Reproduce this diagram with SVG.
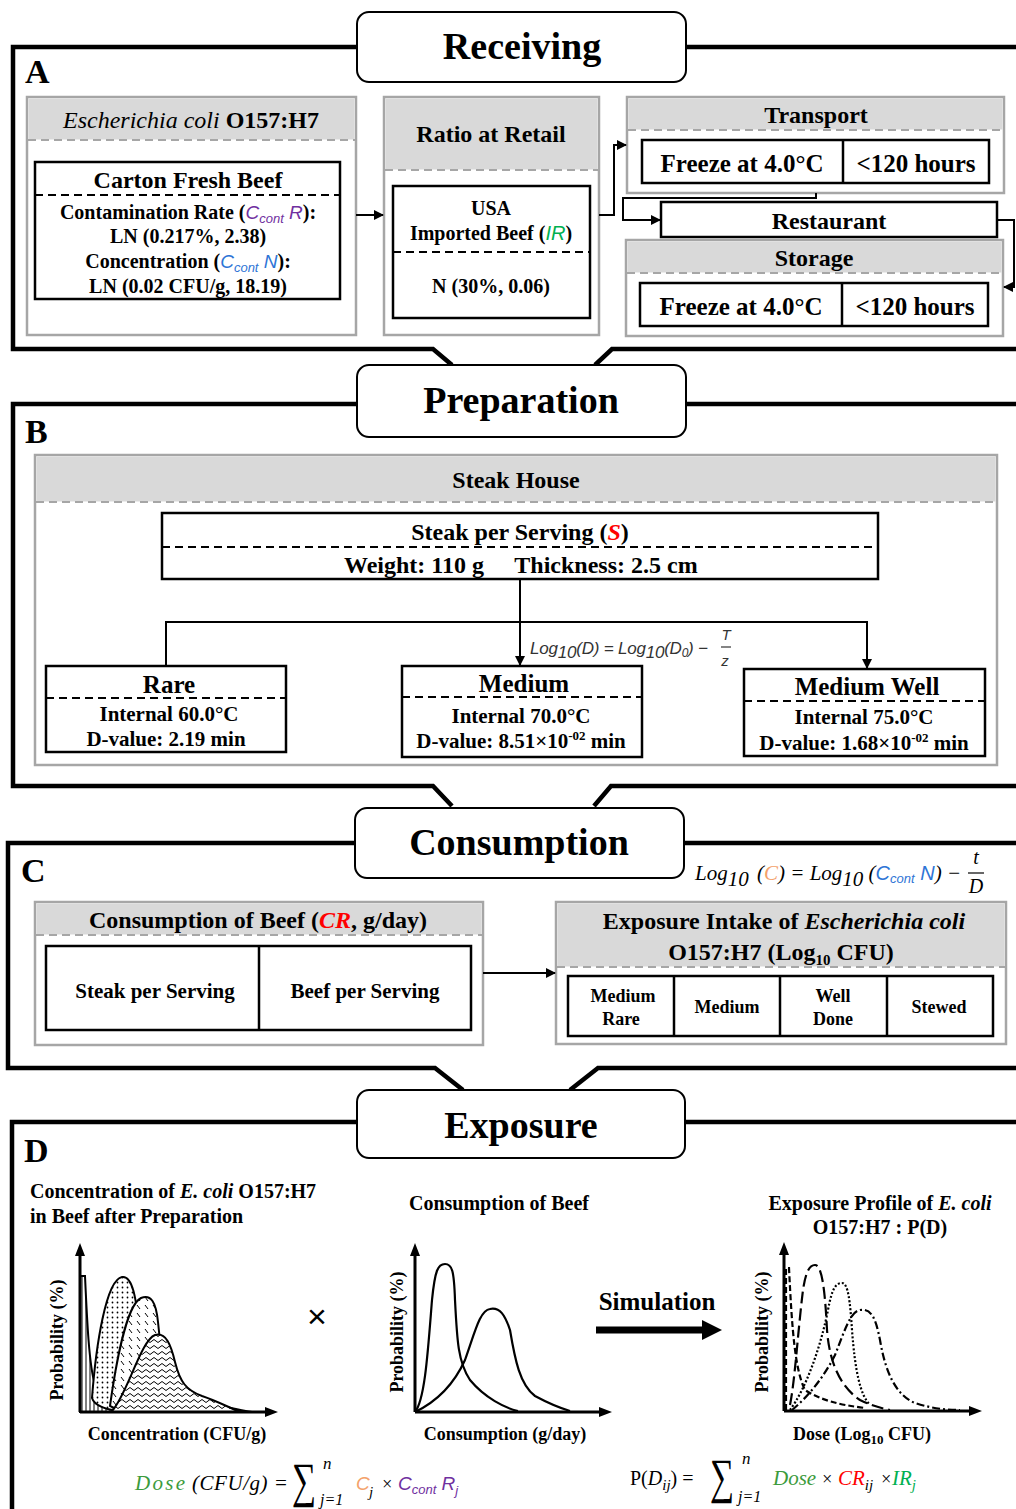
<svg xmlns="http://www.w3.org/2000/svg" width="1016" height="1509" viewBox="0 0 1016 1509">
<style>
text{font-family:"Liberation Serif","Times New Roman",serif;font-weight:bold;fill:#000}
.c{text-anchor:middle}
.sec{font-size:38px}
.let{font-size:34px}
.t24{font-size:24px}
.t25{font-size:25px}
.t21{font-size:21px}
.t20{font-size:20px}
.t19{font-size:19px}
.t18{font-size:18px}
.frame{fill:none;stroke:#000;stroke-width:4.5}
.tbox{fill:#fff;stroke:#000;stroke-width:2}
.gbox{fill:#fff;stroke:#a6a6a6;stroke-width:2.5}
.ghead{fill:#d9d9d9}
.gdash{stroke:#a6a6a6;stroke-width:2;stroke-dasharray:8 5;fill:none}
.bbox{fill:#fff;stroke:#000;stroke-width:2.5}
.bline{stroke:#000;stroke-width:2.5;fill:none}
.bdash{stroke:#000;stroke-width:2.2;stroke-dasharray:8 5;fill:none}
.con{stroke:#000;stroke-width:2;fill:none}
.ax{stroke:#000;stroke-width:3;fill:none}
.cv{stroke:#000;stroke-width:2.2;fill:none}
.it{font-style:italic;font-weight:normal}
.bi{font-style:italic}
.n{font-weight:normal}
.m{font-family:"Liberation Serif","Times New Roman",serif;font-style:italic;font-weight:normal}
.sans{font-family:"Liberation Sans",Arial,sans-serif;font-style:italic;font-weight:normal}
</style>
<defs>
<marker id="ah" markerWidth="10" markerHeight="10" refX="9" refY="5" orient="auto" markerUnits="userSpaceOnUse"><path d="M0,0 L10,5 L0,10 Z" fill="#000"/></marker>
<pattern id="pDots" width="5" height="5" patternUnits="userSpaceOnUse"><rect width="5" height="5" fill="#fff"/><circle cx="2.5" cy="2.5" r="0.9" fill="#000"/></pattern>
<pattern id="pDash" width="8" height="8" patternUnits="userSpaceOnUse"><rect width="8" height="8" fill="#fff"/><path d="M1,1 L4,5" stroke="#000" stroke-width="1"/></pattern>
<pattern id="pWave" width="8" height="6" patternUnits="userSpaceOnUse"><rect width="8" height="6" fill="#fff"/><path d="M0,3 Q2,0 4,3 T8,3" stroke="#000" stroke-width="1" fill="none"/></pattern>
<pattern id="pVline" width="4" height="4" patternUnits="userSpaceOnUse"><rect width="4" height="4" fill="#fff"/><path d="M2,0 V4" stroke="#000" stroke-width="1"/></pattern>
</defs>

<g id="frames">
<path class="frame" d="M357,47 H13 V349 H433 L452,365 M595,365 L612,349 H1016 M686,47 H1016"/>
<path class="frame" d="M357,404 H13 V786 H433 L452,806 M594,806 L611,786 H1016 M686,404 H1016"/>
<path class="frame" d="M355,843 H8 V1068 H435 L463,1090 M570,1090 L598,1068 H1016 M684,843 H1016"/>
<path class="frame" d="M357,1122 H12 V1509 M685,1122 H1016"/>
<text class="let" x="25" y="83">A</text>
<text class="let" x="25" y="443">B</text>
<text class="let" x="21" y="882">C</text>
<text class="let" x="24" y="1162">D</text>
</g>

<g id="receiving"><rect class="tbox" x="357" y="12" width="329" height="70" rx="12"/><text class="sec c" x="522" y="59">Receiving</text></g>
<g id="preparation"><rect class="tbox" x="357" y="365" width="329" height="72" rx="12"/><text class="sec c" x="521" y="413">Preparation</text></g>
<g id="consumption"><rect class="tbox" x="355" y="808" width="329" height="70" rx="12"/><text class="sec c" x="519" y="855">Consumption</text></g>
<g id="exposure"><rect class="tbox" x="357" y="1090" width="328" height="68" rx="12"/><text class="sec c" x="521" y="1138">Exposure</text></g>

<g id="ecoli">
<rect class="gbox" x="27" y="97" width="329" height="238"/>
<rect class="ghead" x="28.5" y="98.5" width="326" height="41"/>
<line class="gdash" x1="28" y1="140" x2="355" y2="140"/>
<text class="t24 c" x="191" y="128"><tspan class="it">Escherichia coli</tspan> O157:H7</text>
<rect class="bbox" x="35" y="162" width="305" height="137"/>
<line class="bdash" x1="35" y1="195" x2="340" y2="195"/>
<text class="t24 c" x="188" y="188">Carton Fresh Beef</text>
<text class="t20 c" x="188" y="219">Contamination Rate (<tspan class="sans" fill="#7030A0" font-size="19">C<tspan font-size="13" dy="4">cont</tspan><tspan dy="-4"> R</tspan></tspan>):</text>
<text class="t20 c" x="188" y="243">LN (0.217%, 2.38)</text>
<text class="t20 c" x="188" y="268">Concentration (<tspan class="sans" fill="#2E75D6" font-size="19">C<tspan font-size="13" dy="4">cont</tspan><tspan dy="-4"> N</tspan></tspan>):</text>
<text class="t20 c" x="188" y="293">LN (0.02 CFU/g, 18.19)</text>
</g>

<g id="ratio">
<rect class="gbox" x="384" y="97" width="215" height="238"/>
<rect class="ghead" x="385.5" y="98.5" width="212" height="71"/>
<line class="gdash" x1="385" y1="170" x2="598" y2="170"/>
<text class="t24 c" x="491" y="142">Ratio at Retail</text>
<rect class="bbox" x="393" y="186" width="197" height="132"/>
<line class="bdash" x1="393" y1="252" x2="590" y2="252"/>
<text class="t20 c" x="491" y="215">USA</text>
<text class="t20 c" x="491" y="240">Imported Beef (<tspan class="sans" fill="#00B050">IR</tspan>)</text>
<text class="t20 c" x="491" y="293">N (30%, 0.06)</text>
</g>

<g id="transport">
<rect class="gbox" x="627" y="97" width="377" height="96"/>
<rect class="ghead" x="628.5" y="98.5" width="374" height="31"/>
<line class="gdash" x1="628" y1="130" x2="1003" y2="130"/>
<text class="t24 c" x="816" y="123">Transport</text>
<rect class="bbox" x="642" y="140" width="347" height="43"/>
<line class="bline" x1="843" y1="140" x2="843" y2="183"/>
<text class="t25 c" x="742" y="172">Freeze at 4.0°C</text>
<text class="t25 c" x="916" y="172">&lt;120 hours</text>
</g>

<g id="restaurant">
<rect class="bbox" x="661" y="202" width="336" height="35"/>
<text class="t24 c" x="829" y="229">Restaurant</text>
</g>

<g id="storage">
<rect class="gbox" x="626" y="240" width="377" height="96"/>
<rect class="ghead" x="627.5" y="241.5" width="374" height="31"/>
<line class="gdash" x1="627" y1="273" x2="1002" y2="273"/>
<text class="t24 c" x="814" y="266">Storage</text>
<rect class="bbox" x="640" y="283" width="348" height="43"/>
<line class="bline" x1="842" y1="283" x2="842" y2="326"/>
<text class="t25 c" x="741" y="315">Freeze at 4.0°C</text>
<text class="t25 c" x="915" y="315">&lt;120 hours</text>
</g>

<g id="steakhouse">
<rect class="gbox" x="35" y="455" width="962" height="310"/>
<rect class="ghead" x="36.5" y="456.5" width="959" height="45"/>
<line class="gdash" x1="36" y1="502" x2="996" y2="502"/>
<text class="t24 c" x="516" y="488">Steak House</text>
</g>

<g id="steak">
<rect class="bbox" x="162" y="513" width="716" height="66"/>
<line class="bdash" x1="162" y1="547" x2="878" y2="547"/>
<text class="t24 c" x="520" y="540">Steak per Serving (<tspan fill="#FF0000" font-style="italic">S</tspan>)</text>
<text class="t24 c" x="414" y="573">Weight: 110 g</text>
<text class="t24 c" x="606" y="573">Thickness: 2.5 cm</text>
</g>

<g id="rare">
<rect class="bbox" x="46" y="666" width="240" height="86"/>
<line class="bdash" x1="46" y1="698" x2="286" y2="698"/>
<text class="t25 c" x="169" y="693">Rare</text>
<text class="t21 c" x="169" y="721">Internal  60.0°C</text>
<text class="t21 c" x="166" y="746">D-value: 2.19 min</text>
</g>

<g id="medium">
<rect class="bbox" x="402" y="666" width="240" height="91"/>
<line class="bdash" x1="402" y1="697" x2="642" y2="697"/>
<text class="t25 c" x="524" y="692">Medium</text>
<text class="t21 c" x="521" y="723">Internal  70.0°C</text>
<text class="t21 c" x="521" y="748">D-value: 8.51×10<tspan font-size="13" dy="-8">-02</tspan><tspan dy="8"> min</tspan></text>
</g>

<g id="mediumwell">
<rect class="bbox" x="744" y="669" width="241" height="87"/>
<line class="bdash" x1="744" y1="701" x2="985" y2="701"/>
<text class="t25 c" x="867" y="695">Medium Well</text>
<text class="t21 c" x="864" y="724">Internal  75.0°C</text>
<text class="t21 c" x="864" y="750">D-value: 1.68×10<tspan font-size="13" dy="-8">-02</tspan><tspan dy="8"> min</tspan></text>
</g>

<g id="consbeef">
<rect class="gbox" x="35" y="902" width="448" height="143"/>
<rect class="ghead" x="36.5" y="903.5" width="445" height="31"/>
<line class="gdash" x1="36" y1="935" x2="482" y2="935"/>
<text class="t24 c" x="258" y="928">Consumption of Beef (<tspan fill="#FF0000" font-style="italic">CR</tspan>, g/day)</text>
<rect class="bbox" x="46" y="946" width="425" height="84"/>
<line class="bline" x1="259" y1="946" x2="259" y2="1030"/>
<text class="t21 c" x="155" y="998">Steak per Serving</text>
<text class="t21 c" x="365" y="998">Beef per Serving</text>
</g>

<g id="intake">
<rect class="gbox" x="556" y="902" width="450" height="142"/>
<rect class="ghead" x="557.5" y="903.5" width="447" height="63"/>
<line class="gdash" x1="557" y1="967" x2="1005" y2="967"/>
<text class="t24 c" x="784" y="929">Exposure Intake of <tspan class="bi">Escherichia coli</tspan></text>
<text class="t24 c" x="781" y="960">O157:H7 (Log<tspan font-size="15" dy="5">10</tspan><tspan dy="-5"> CFU)</tspan></text>
<rect class="bbox" x="568" y="976" width="425" height="60"/>
<line class="bline" x1="674" y1="976" x2="674" y2="1036"/>
<line class="bline" x1="780" y1="976" x2="780" y2="1036"/>
<line class="bline" x1="887" y1="976" x2="887" y2="1036"/>
<text class="t18 c" x="623" y="1002">Medium</text>
<text class="t18 c" x="621" y="1025">Rare</text>
<text class="t18 c" x="727" y="1013">Medium</text>
<text class="t18 c" x="833" y="1002">Well</text>
<text class="t18 c" x="833" y="1025">Done</text>
<text class="t18 c" x="939" y="1013">Stewed</text>
</g>

<g id="connectors">
<line class="con" x1="356" y1="215" x2="383" y2="215" marker-end="url(#ah)"/>
<polyline class="con" points="599,215 614,215 614,145 626,145" marker-end="url(#ah)"/>
<polyline class="con" points="816,193 816,198 623,198 623,220 660,220" marker-end="url(#ah)"/>
<polyline class="con" points="997,220 1014,220 1014,287 1004,287" marker-end="url(#ah)"/>
<line class="con" x1="520" y1="579" x2="520" y2="665" marker-end="url(#ah)"/>
<polyline class="con" points="166,665 166,622 867,622 867,668" marker-end="url(#ah)"/>
<line class="con" x1="483" y1="973" x2="555" y2="973" marker-end="url(#ah)"/>
</g>

<g id="formulaB">
<text class="sans" x="530" y="654" font-size="17" style="fill:#333" textLength="178">Log<tspan dy="4">10</tspan><tspan dy="-4">(D) = Log</tspan><tspan dy="4">10</tspan><tspan dy="-4">(D</tspan><tspan font-size="12" dy="3">0</tspan><tspan dy="-3">) −</tspan></text>
<text class="sans c" x="726" y="640" font-size="15" style="fill:#333">T</text>
<line x1="721" y1="647" x2="731" y2="647" stroke="#333" stroke-width="1.2"/>
<text class="sans c" x="725" y="666" font-size="15" style="fill:#333">z</text>
</g>

<g id="formulaC">
<text class="m" x="695" y="880" font-size="21">Log<tspan dy="6">10</tspan></text>
<text class="m" x="757" y="880" font-size="21">(<tspan fill="#F4A26B">C</tspan>) = Log<tspan dy="6">10</tspan><tspan dy="-6"> (</tspan><tspan class="sans" fill="#2E75D6" font-size="20">C<tspan font-size="13" dy="3">cont</tspan><tspan dy="-3"> N</tspan></tspan>) −</text>
<text class="m c" x="976" y="864" font-size="20">t</text>
<line x1="968" y1="873" x2="984" y2="873" stroke="#000" stroke-width="1.2"/>
<text class="m c" x="976" y="893" font-size="20">D</text>
</g>

<g id="chartConc">
<text class="t20" x="30" y="1198">Concentration of <tspan font-style="italic">E. coli</tspan> O157:H7</text>
<text class="t20" x="30" y="1223">in Beef after Preparation</text>
<path d="M80,1412 L80,1276 L85,1276 C87,1320 89,1365 95,1385 C102,1400 115,1408 135,1412 Z" fill="url(#pVline)" stroke="#000" stroke-width="2"/>
<path d="M92,1398 C96,1345 106,1280 122,1277 C133,1275 136,1300 140,1330 C146,1370 170,1390 200,1400 C225,1407 245,1411 252,1412 L125,1412 C105,1410 94,1405 92,1398 Z" fill="url(#pDots)" stroke="#000" stroke-width="2"/>
<path d="M110,1406 C115,1370 126,1305 141,1298 C151,1294 156,1302 158,1322 C161,1360 170,1385 190,1395 C210,1403 230,1410 246,1412 L122,1412 Z" fill="url(#pDash)" stroke="#000" stroke-width="2"/>
<path d="M112,1411 C127,1395 141,1340 155,1335 C166,1332 171,1345 175,1362 C180,1382 186,1390 202,1396 C217,1401 230,1408 240,1412 L112,1412 Z" fill="url(#pWave)" stroke="#000" stroke-width="2"/>
<path class="ax" d="M80,1412 V1252 M80,1412 H268"/>
<path d="M80,1243 L75,1256 L85,1256 Z M278,1412 L265,1407 L265,1417 Z" fill="#000"/>
<text class="t18 c" transform="translate(63,1340) rotate(-90)">Probability (%)</text>
<text class="t18 c" x="177" y="1440">Concentration (CFU/g)</text>
<text class="n c" x="317" y="1328" font-size="34" style="font-family:'Liberation Sans',Arial,sans-serif">×</text>
</g>

<g id="chartCons">
<text class="t20 c" x="499" y="1210">Consumption of Beef</text>
<path class="cv" d="M415,1412 C425,1400 428,1350 432,1300 C435,1270 438,1264 445,1264 C452,1264 454,1270 455,1300 C457,1340 458,1362 470,1380 C485,1398 505,1408 518,1411"/>
<path class="cv" d="M415,1412 C440,1400 455,1382 465,1360 C475,1332 480,1310 490,1309 C500,1307 505,1315 510,1330 C515,1360 520,1385 535,1396 C548,1403 560,1408 570,1411"/>
<path class="ax" d="M415,1412 V1252 M415,1412 H602"/>
<path d="M415,1243 L410,1256 L420,1256 Z M612,1412 L599,1407 L599,1417 Z" fill="#000"/>
<text class="t18 c" transform="translate(403,1332) rotate(-90)">Probability (%)</text>
<text class="t18 c" x="505" y="1440">Consumption (g/day)</text>
</g>

<g id="simulation">
<text class="t25 c" x="657" y="1310">Simulation</text>
<line x1="596" y1="1330" x2="705" y2="1330" stroke="#000" stroke-width="7"/>
<path d="M722,1330 L702,1320 L702,1340 Z" fill="#000"/>
</g>

<g id="chartDose">
<text class="t20 c" x="880" y="1210">Exposure Profile of <tspan font-style="italic">E. coli</tspan></text>
<text class="t20 c" x="880" y="1234">O157:H7 : P(D)</text>
<path class="cv" stroke-dasharray="6 3" d="M786,1410 L786,1268 L789,1268 C792,1330 795,1370 805,1390 C820,1400 840,1405 865,1408"/>
<path class="cv" stroke-dasharray="12 5" d="M790,1405 C795,1380 798,1330 803,1290 C806,1270 810,1265 815,1265 C822,1265 825,1290 827,1330 C830,1370 845,1390 860,1400 C870,1405 880,1408 890,1410"/>
<path class="cv" stroke-width="1.8" stroke-dasharray="2 2" d="M790,1410 C805,1390 820,1350 828,1310 C832,1288 836,1283 842,1283 C848,1283 850,1300 852,1330 C855,1370 860,1395 870,1405"/>
<path class="cv" stroke-dasharray="8 3 2 3" d="M792,1410 C810,1395 825,1375 835,1355 C845,1330 850,1312 860,1310 C872,1308 876,1320 880,1340 C885,1370 895,1395 915,1403 C930,1408 945,1410 960,1410"/>
<path class="ax" d="M784,1411 V1252 M784,1411 H972"/>
<path d="M784,1242 L779,1255 L789,1255 Z M982,1411 L969,1406 L969,1416 Z" fill="#000"/>
<text class="t18 c" transform="translate(768,1332) rotate(-90)">Probability (%)</text>
<text class="t18 c" x="862" y="1440">Dose (Log<tspan font-size="13" dy="4">10</tspan><tspan dy="-4"> CFU)</tspan></text>
</g>

<g id="formulaDose">
<text class="m" x="135" y="1490" font-size="21" style="fill:#3C9B3C" textLength="50">Dose</text>
<text class="m" x="192" y="1490" font-size="21" textLength="96">(CFU/g) =</text>
<text class="n" transform="translate(292,1497) scale(1,1.45)" font-size="34">∑</text>
<text class="m" x="323" y="1469" font-size="17">n</text>
<text class="m" x="320" y="1505" font-size="16">j=1</text>
<text class="sans" x="356" y="1490" font-size="19" style="fill:#F4A26B">C</text>
<text class="m" x="369" y="1497" font-size="15">j</text>
<text class="m" x="381" y="1490" font-size="18">×</text>
<text class="sans" x="398" y="1490" font-size="19" style="fill:#7030A0">C<tspan font-size="13" dy="4">cont</tspan><tspan dy="-4"> R</tspan><tspan font-size="13" dy="5">j</tspan></text>
</g>

<g id="formulaP">
<text class="n" x="630" y="1485" font-size="20">P(<tspan class="m">D</tspan><tspan class="m" font-size="15" dy="5">ij</tspan><tspan dy="-5">) =</tspan></text>
<text class="n" transform="translate(710,1493) scale(1,1.45)" font-size="34">∑</text>
<text class="m" x="742" y="1464" font-size="17">n</text>
<text class="m" x="738" y="1502" font-size="16">j=1</text>
<text class="m" x="773" y="1485" font-size="21" style="fill:#3C9B3C">Dose</text>
<text class="m" x="821" y="1485" font-size="18">×</text>
<text class="m" x="838" y="1485" font-size="21" style="fill:#FF0000">CR<tspan font-size="15" dy="5" style="fill:#000">ij</tspan></text>
<text class="m" x="880" y="1485" font-size="18">×</text>
<text class="m" x="892" y="1485" font-size="21" style="fill:#00B050">IR<tspan font-size="15" dy="5">j</tspan></text>
</g>
</svg>
